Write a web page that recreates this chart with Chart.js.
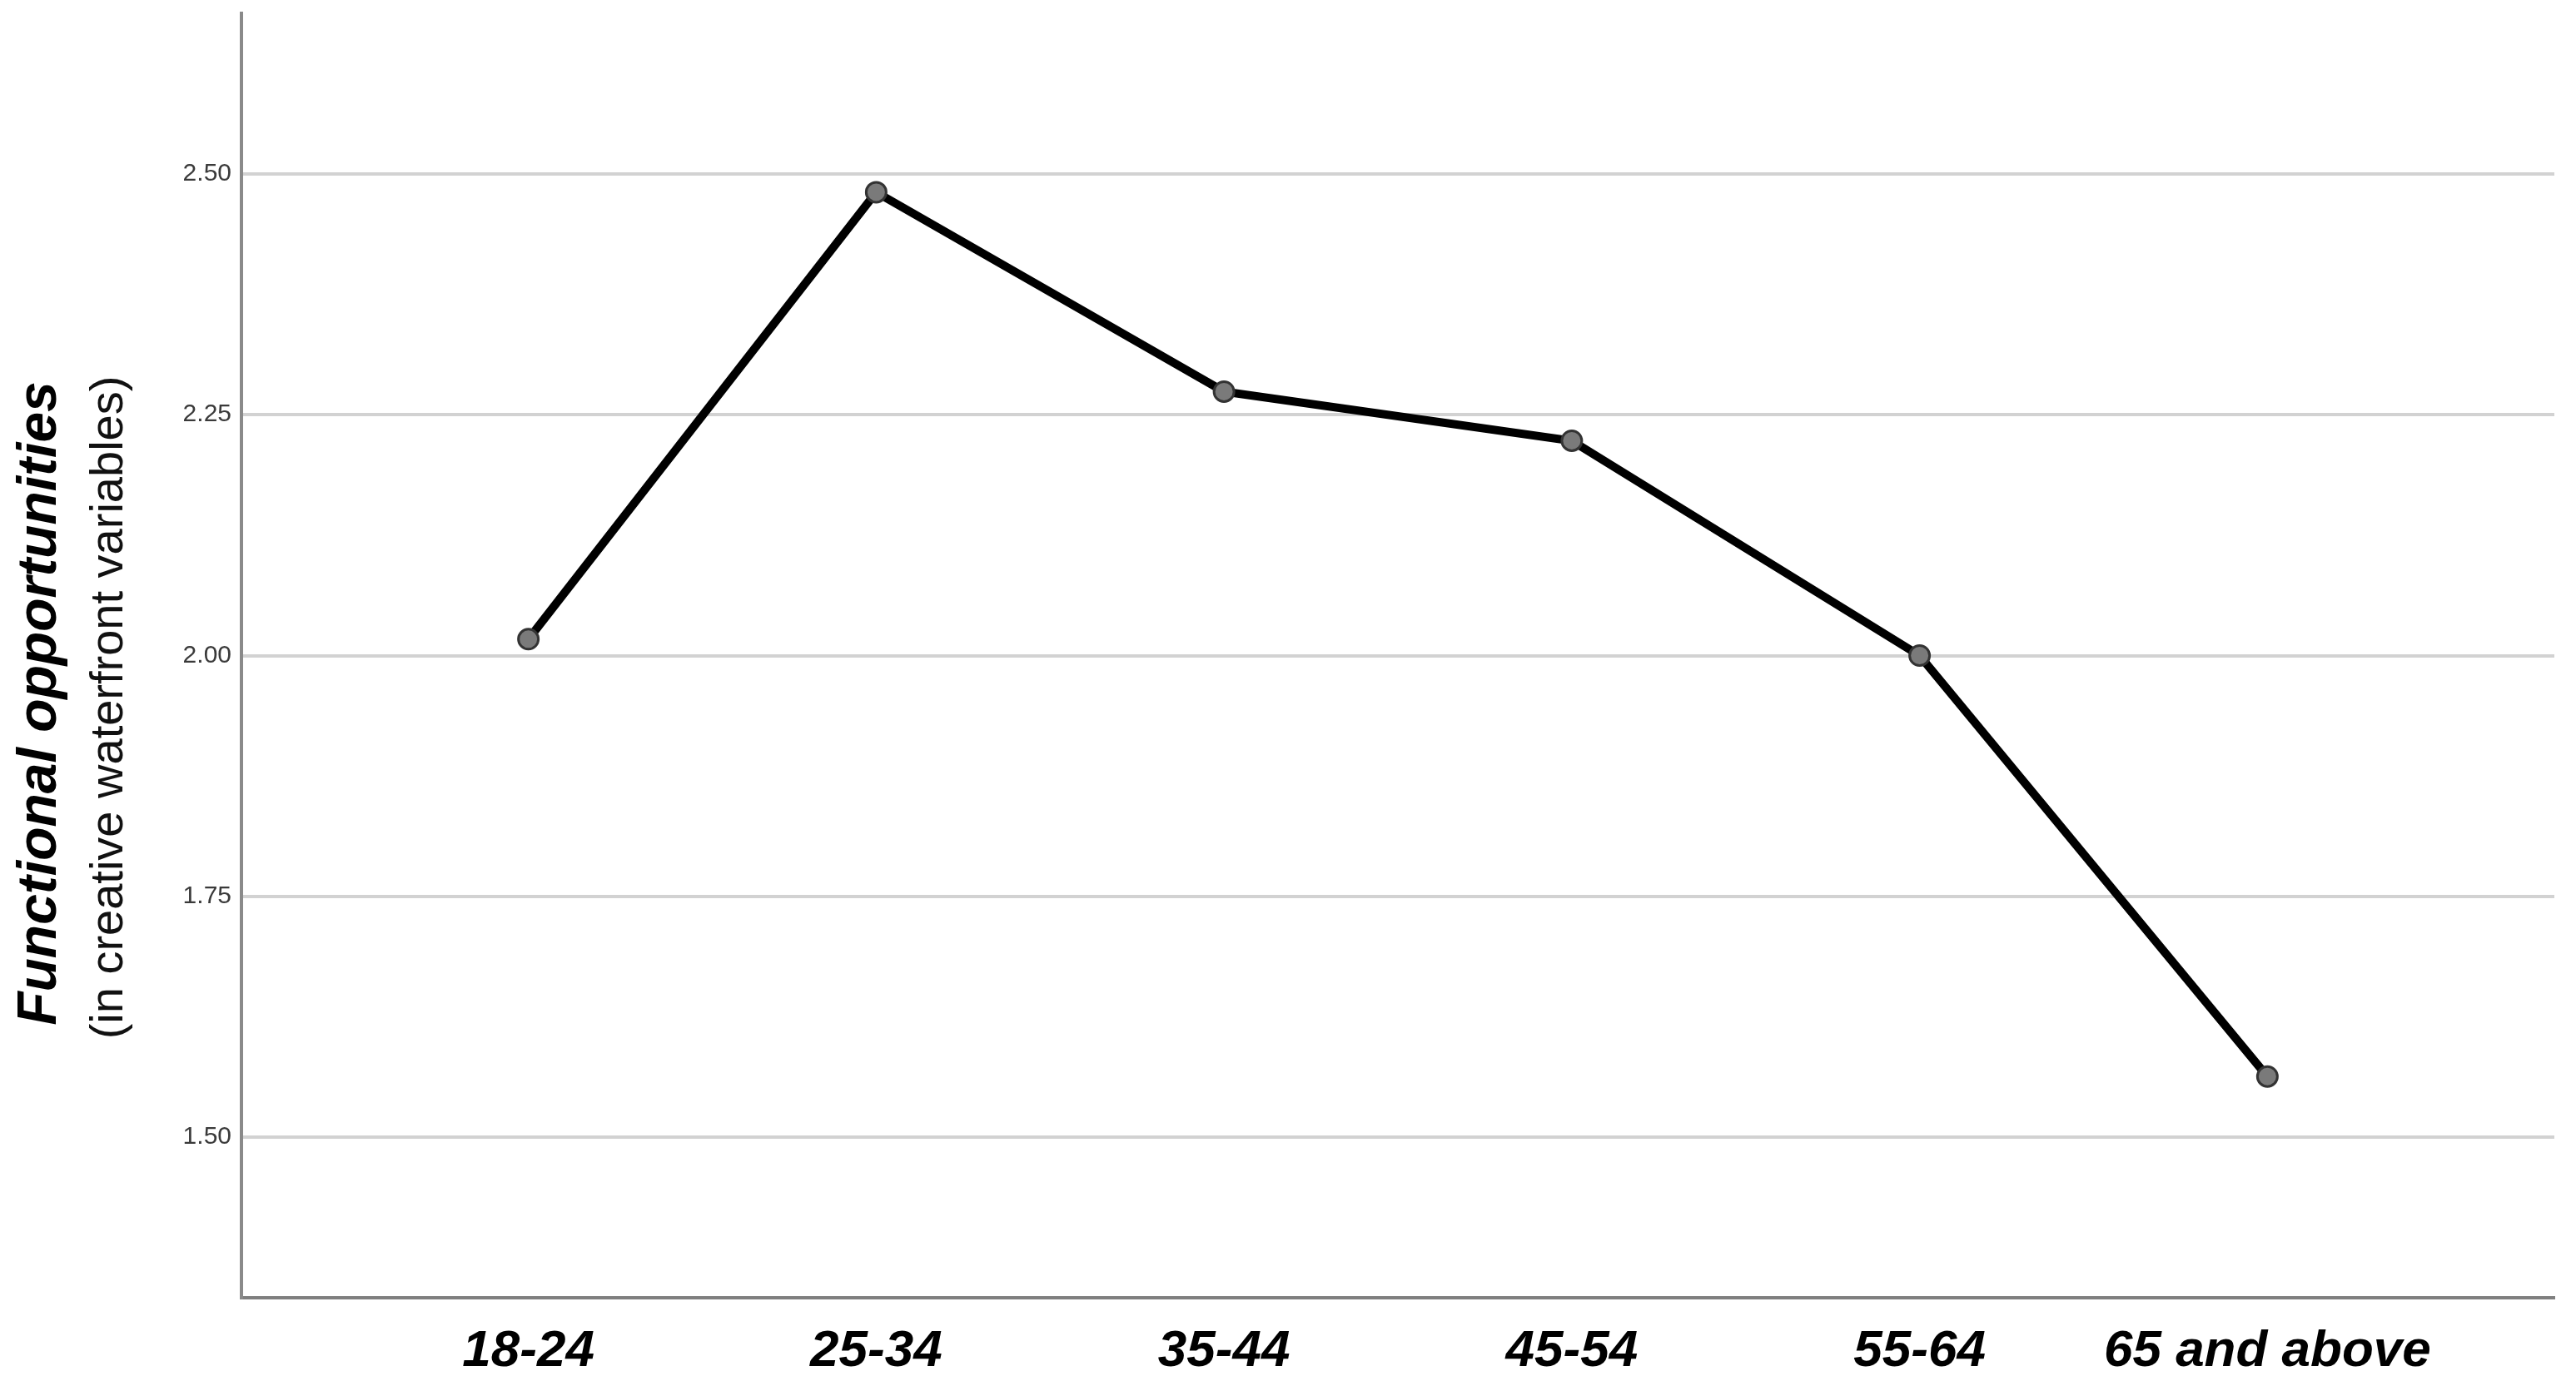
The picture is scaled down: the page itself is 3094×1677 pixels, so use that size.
<!DOCTYPE html>
<html>
<head>
<meta charset="utf-8">
<script src="https://cdn.jsdelivr.net/npm/chart.js@4.4.1/dist/chart.umd.min.js"></script>
<style>
  html, body { margin: 0; padding: 0; background: #fff; }
  #wrap { width: 3094px; height: 1677px; }
</style>
</head>
<body>
<div id="wrap"><canvas id="ageChart" width="3094" height="1677"></canvas></div>
<script>
// Age groups and mean scores
const ageGroups = ["18-24", "25-34", "35-44", "45-54", "55-64", "65 and above"];
const meanScores = [2.017, 2.481, 2.274, 2.223, 2.000, 1.563];
const yTickValues = [1.50, 1.75, 2.00, 2.25, 2.50];

const yTitle = "Functional opportunities";
const ySubtitle = "(in creative waterfront variables)";

const narrow = "'Liberation Sans Narrow', 'Arial Narrow', 'Liberation Sans', sans-serif";

// Draws the two-line y axis title (bold italic + regular)
const yTitlePlugin = {
  id: "yTitle",
  afterDraw(chart) {
    const ctx = chart.ctx;
    ctx.save();
    ctx.fillStyle = "#000";
    ctx.textAlign = "center";
    ctx.textBaseline = "middle";
    ctx.translate(49, 845);
    ctx.rotate(-Math.PI / 2);
    ctx.font = "italic bold 66px " + narrow;
    ctx.fillText(yTitle, 0, 0);
    ctx.restore();

    ctx.save();
    ctx.fillStyle = "#111";
    ctx.textAlign = "center";
    ctx.textBaseline = "middle";
    ctx.translate(132, 850);
    ctx.rotate(-Math.PI / 2);
    ctx.font = "56px " + narrow;
    ctx.fillText(ySubtitle, 0, 0);
    ctx.restore();
  }
};

const ctx = document.getElementById("ageChart").getContext("2d");

new Chart(ctx, {
  type: "line",
  data: {
    datasets: [{
      data: meanScores.map((v, i) => ({ x: i, y: v })),
      borderColor: "#000",
      borderWidth: 10,
      pointRadius: 12,
      pointBackgroundColor: "#7a7a7a",
      pointBorderColor: "#333",
      pointBorderWidth: 3,
      tension: 0,
      clip: false
    }]
  },
  options: {
    responsive: false,
    animation: false,
    layout: { padding: { top: 16, right: 26, left: 0, bottom: 0 } },
    plugins: {
      legend: { display: false },
      tooltip: { enabled: false }
    },
    scales: {
      x: {
        type: "linear",
        min: -0.825,
        max: ageGroups.length - 1 + 0.825,
        afterBuildTicks(scale) {
          scale.ticks = ageGroups.map((_, i) => ({ value: i }));
        },
        afterFit(scale) {
          scale.height = 118;
          scale.paddingLeft = 0;
          scale.paddingRight = 0;
        },
        grid: { display: false, drawTicks: false },
        border: { display: true, color: "#7f7f7f", width: 4 },
        ticks: {
          autoSkip: false,
          maxRotation: 0,
          padding: 28,
          color: "#000",
          font: { family: narrow, size: 62, weight: "bold", style: "italic" },
          callback: (v) => ageGroups[v]
        }
      },
      y: {
        min: 1.3333,
        max: 2.6667,
        afterBuildTicks(scale) {
          scale.ticks = yTickValues.map(v => ({ value: v }));
        },
        afterFit(scale) {
          scale.width = 290;
          scale.paddingTop = 0;
          scale.paddingBottom = 0;
        },
        grid: { color: "#d2d2d2", lineWidth: 4, drawTicks: false },
        border: { display: true, color: "#8a8a8a", width: 4 },
        ticks: {
          padding: 12,
          color: "#3a3a3a",
          font: { family: "'Liberation Sans', Arial, sans-serif", size: 30 },
          callback: (v) => v.toFixed(2)
        }
      }
    }
  },
  plugins: [yTitlePlugin]
});
</script>
</body>
</html>
